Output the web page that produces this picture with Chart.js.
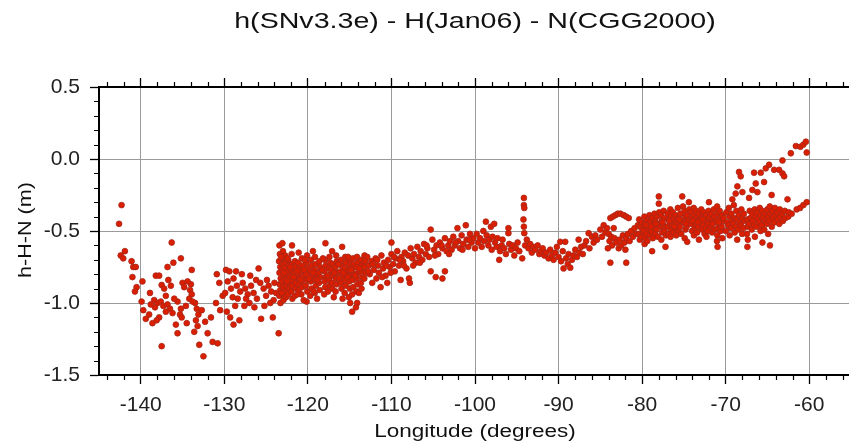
<!DOCTYPE html>
<html>
<head>
<meta charset="utf-8">
<script src="https://cdn.jsdelivr.net/npm/chart.js@4.4.1/dist/chart.umd.min.js"></script>
<style>
html, body { margin: 0; padding: 0; background: #fff; overflow: hidden; }
</style>
</head>
<body>
<canvas id="chart" width="870" height="447"></canvas>
<script>
// text
var titleText = 'h(SNv3.3e) - H(Jan06) - N(CGG2000)';
var xLabel = 'Longitude (degrees)';
var yLabel = 'h-H-N (m)';

// axis ranges / ticks
var xRange = [-145, -55];
var yRange = [-1.5, 0.5];
var xTickValues = [-140, -130, -120, -110, -100, -90, -80, -70, -60];
var yTickValues = [-1.5, -1.0, -0.5, 0.0, 0.5];

// [longitude, h-H-N], west to east
var westPts = [
  [-142.6,-0.45],[-142.3,-0.32],[-142.4,-0.67],[-141.9,-0.64],[-142.1,-0.69],[-141.1,-0.71],[-140.9,-0.75],
  [-140.6,-0.75],[-141.0,-0.82],[-140.5,-0.89],[-140.7,-0.92],[-139.8,-0.85],[-136.3,-0.58],[-136.1,-0.72],
  [-135.2,-0.69],[-136.8,-0.75],[-138.2,-0.81],[-137.8,-0.81],[-136.7,-0.84],[-137.5,-0.875],[-133.9,-0.77],
  [-135.0,-0.86],[-134.8,-0.89],[-134.0,-0.87],[-134.1,-0.91],[-133.9,-0.94],[-134.2,-0.97],[-138.4,-0.98],
  [-138.0,-1.0],[-137.6,-0.99],[-138.3,-1.03],[-137.3,-1.02],[-138.8,-1.01],[-139.7,-1.05],[-139.4,-1.11],
  [-138.6,-1.14],[-137.8,-1.10],[-136.8,-1.01],[-136.5,-1.04],[-136.2,-1.07],[-137.0,-1.06],[-135.2,-1.04],
  [-135.3,-1.08],[-135.1,-1.10],[-135.6,-0.99],[-133.5,-1.0],[-133.3,-1.04],[-133.1,-1.08],[-133.4,-1.12],
  [-133.2,-1.16],[-133.6,-1.2],[-135.6,-1.21],[-137.5,-1.30],[-133.0,-1.29],[-132.5,-1.37],[-132.0,-1.21],
  [-131.4,-1.27],[-130.8,-1.28],[-131.6,-1.10],[-139.0,-1.08],[-138.9,-0.93],[-137.0,-0.95],[-136.0,-0.97],
  [-134.6,-1.02],[-134.5,-1.14],[-135.8,-1.15],[-138.1,-1.12],[-139.9,-0.99],[-132.7,-1.05],[-132.3,-1.13],
  [-133.8,-0.99],[-134.4,-0.85],[-136.4,-0.88],[-137.2,-0.90]
];

var coastPts = [
  [-131.0,-1.0],[-130.5,-1.05],[-130.2,-0.95],[-129.8,-0.77],[-129.4,-0.78],[-128.6,-0.78],[-129.6,-0.85],
  [-129.2,-0.9],[-128.9,-0.83],[-128.5,-0.88],[-128.1,-0.92],[-129.9,-0.93],[-129.0,-0.96],[-128.4,-0.97],
  [-127.8,-0.86],[-127.5,-0.9],[-127.2,-0.94],[-126.8,-0.88],[-126.5,-0.93],[-126.1,-0.97],[-125.9,-0.76],
  [-125.7,-0.86],[-125.3,-0.9],[-125.0,-0.95],[-124.7,-0.88],[-124.4,-0.92],[-124.1,-0.98],[-123.8,-0.93],
  [-129.7,-1.06],[-129.3,-1.1],[-128.9,-1.15],[-128.2,-1.12],[-127.6,-1.02],[-127.0,-1.0],[-126.4,-1.03],
  [-125.6,-1.11],[-124.2,-1.10],[-123.5,-1.21],[-130.6,-0.86],[-130.9,-0.8],[-127.9,-0.8],[-126.2,-0.84],
  [-124.9,-0.84],[-124.5,-1.0],[-125.2,-1.02],[-127.4,-0.97],[-128.7,-1.02],[-126.9,-0.81],[-124.0,-0.86]
];

var mountainPts = [
  [-123.4,-0.6],[-123.35,-0.66],[-123.45,-0.71],[-123.3,-0.75],[-123.4,-0.79],[-123.25,-0.83],[-123.38,-0.87],
  [-123.3,-0.91],[-123.42,-0.95],[-123.28,-1.0],[-123.05,-0.585],[-122.98,-0.64],[-123.1,-0.69],[-122.95,-0.73],
  [-123.02,-0.77],[-122.9,-0.81],[-123.08,-0.85],[-122.96,-0.89],[-123.0,-0.94],[-122.92,-0.98],[-122.72,-0.67],
  [-122.65,-0.72],[-122.78,-0.76],[-122.6,-0.8],[-122.7,-0.84],[-122.58,-0.88],[-122.75,-0.92],[-122.62,-0.96],
  [-122.35,-0.7],[-122.28,-0.74],[-122.4,-0.78],[-122.22,-0.82],[-122.33,-0.86],[-122.25,-0.9],[-122.38,-0.94],
  [-121.95,-0.66],[-121.88,-0.73],[-122.02,-0.77],[-121.85,-0.8],[-121.97,-0.84],[-121.9,-0.88],[-122.0,-0.92],
  [-121.86,-0.97],[-121.55,-0.71],[-121.48,-0.75],[-121.6,-0.79],[-121.45,-0.83],[-121.52,-0.86],[-121.42,-0.9],
  [-121.58,-0.95],[-121.1,-0.65],[-121.15,-0.72],[-121.05,-0.76],[-121.18,-0.8],[-121.02,-0.83],[-121.12,-0.87],
  [-121.08,-0.91],[-120.72,-0.69],[-120.65,-0.74],[-120.8,-0.78],[-120.6,-0.82],[-120.75,-0.85],[-120.68,-0.89],
  [-120.78,-0.94],[-120.1,-0.67],[-120.18,-0.72],[-120.05,-0.76],[-120.22,-0.8],[-120.12,-0.84],[-120.25,-0.88],
  [-120.08,-0.92],[-120.15,-0.99],[-119.62,-0.7],[-119.55,-0.74],[-119.7,-0.78],[-119.5,-0.81],[-119.66,-0.85],
  [-119.58,-0.9],[-119.72,-0.95],[-119.15,-0.68],[-119.08,-0.73],[-119.2,-0.77],[-119.02,-0.8],[-119.12,-0.84],
  [-119.05,-0.88],[-119.18,-0.93],[-118.62,-0.71],[-118.55,-0.75],[-118.7,-0.79],[-118.5,-0.82],[-118.66,-0.86],
  [-118.58,-0.91],[-117.9,-0.585],[-117.95,-0.7],[-117.88,-0.74],[-118.02,-0.78],[-117.85,-0.82],[-117.98,-0.85],
  [-117.92,-0.89],[-118.05,-0.94],[-117.42,-0.68],[-117.35,-0.72],[-117.48,-0.76],[-117.3,-0.8],[-117.45,-0.84],
  [-117.38,-0.88],[-117.1,-0.64],[-117.05,-0.73],[-117.15,-0.77],[-117.02,-0.81],[-117.12,-0.86],[-117.08,-0.9],
  [-116.62,-0.67],[-116.55,-0.71],[-116.7,-0.75],[-116.5,-0.79],[-116.65,-0.83],[-116.58,-0.87],[-116.68,-0.92],
  [-115.9,-0.61],[-116.02,-0.7],[-115.95,-0.74],[-116.08,-0.78],[-115.92,-0.82],[-116.05,-0.86],[-115.98,-0.9],
  [-115.52,-0.68],[-115.45,-0.72],[-115.58,-0.76],[-115.42,-0.8],[-115.55,-0.84],[-115.48,-0.88],[-115.6,-0.93],
  [-115.02,-0.7],[-114.95,-0.74],[-115.08,-0.77],[-114.92,-0.81],[-115.05,-0.85],[-114.98,-0.9],[-115.1,-0.96],
  [-114.94,-1.0],[-114.62,-0.69],[-114.55,-0.73],[-114.68,-0.76],[-114.5,-0.8],[-114.65,-0.84],[-114.58,-0.89],
  [-114.7,-0.94],[-114.7,-1.06],[-114.12,-0.68],[-114.05,-0.72],[-114.18,-0.75],[-114.02,-0.79],[-114.15,-0.83],
  [-114.08,-0.87],[-114.2,-0.92],[-114.1,-1.0],[-114.25,-1.03],[-113.62,-0.7],[-113.55,-0.74],[-113.68,-0.78],
  [-113.5,-0.82],[-113.65,-0.86],[-113.58,-0.9],[-113.22,-0.67],[-113.15,-0.71],[-113.28,-0.75],[-113.1,-0.79],
  [-113.25,-0.83],
  [-123.2,-0.68],[-122.85,-0.79],[-122.5,-0.85],[-122.1,-0.75],[-121.7,-0.82],[-121.3,-0.78],[-120.9,-0.84],
  [-120.45,-0.77],[-119.85,-0.83],[-119.35,-0.79],[-118.85,-0.84],[-118.3,-0.77],[-117.65,-0.81],[-116.85,-0.79],
  [-116.3,-0.83],[-115.75,-0.79],[-115.25,-0.82],[-114.8,-0.77],[-114.35,-0.81],[-113.85,-0.76],[-123.15,-0.93],
  [-122.45,-0.69],[-121.25,-0.94],[-120.35,-0.7],[-119.3,-0.92],[-118.2,-0.69],[-117.6,-0.92],[-116.35,-0.73],
  [-115.2,-0.68],[-113.9,-0.93],[-118.9,-0.97],[-120.5,-0.98],[-116.9,-0.96],[-121.9,-0.6],[-119.4,-0.64],
  [-115.85,-0.97]
];

var prairiePts = [
  [-112.9,-0.68],[-112.7,-0.74],[-112.6,-0.8],[-112.4,-0.71],[-112.3,-0.86],[-112.1,-0.77],[-111.9,-0.69],
  [-111.8,-0.83],[-111.6,-0.74],[-111.5,-0.79],[-111.3,-0.89],[-111.2,-0.67],[-111.0,-0.76],[-110.9,-0.72],
  [-110.7,-0.81],[-110.5,-0.86],[-110.4,-0.7],[-110.2,-0.75],[-110.0,-0.58],[-110.0,-0.66],[-109.8,-0.73],
  [-109.6,-0.78],[-109.5,-0.69],[-109.3,-0.64],[-109.1,-0.74],[-108.9,-0.84],[-108.8,-0.68],[-108.6,-0.71],
  [-108.4,-0.65],[-108.2,-0.76],[-107.9,-0.83],[-107.8,-0.86],[-107.7,-0.62],[-107.5,-0.69],[-107.3,-0.66],
  [-107.1,-0.72],[-106.9,-0.61],[-106.7,-0.68],[-106.5,-0.64],[-106.3,-0.7],[-106.1,-0.59],[-105.9,-0.66],
  [-105.7,-0.62],[-105.5,-0.68],[-105.3,-0.49],[-105.3,-0.78],[-105.1,-0.56],[-104.9,-0.63],[-104.7,-0.82],
  [-104.6,-0.6],[-104.4,-0.66],[-104.2,-0.58],[-103.9,-0.83],[-103.9,-0.62],[-103.6,-0.78],[-103.6,-0.55],
  [-103.4,-0.64],[-103.2,-0.6],[-103.0,-0.57],[-102.8,-0.63],[-102.6,-0.54],[-102.4,-0.6],[-102.1,-0.48],
  [-102.0,-0.57],[-101.8,-0.62],[-101.6,-0.53],[-101.4,-0.59],[-101.1,-0.46],[-101.0,-0.56],[-100.8,-0.61],
  [-100.6,-0.52],[-100.4,-0.58],[-100.2,-0.55],[-100.0,-0.62],
  [-112.8,-0.78],[-112.2,-0.73],[-111.7,-0.7],[-111.1,-0.82],[-110.6,-0.74],[-110.1,-0.79],[-109.7,-0.68],
  [-109.0,-0.7],[-108.5,-0.74],[-108.0,-0.67],[-107.4,-0.74],[-106.6,-0.72],[-105.8,-0.6],[-104.8,-0.67],
  [-104.0,-0.6],[-103.1,-0.66],[-102.3,-0.58],[-101.5,-0.63],[-100.7,-0.56]
];

var plainsPts = [
  [-99.8,-0.52],[-99.6,-0.58],[-99.4,-0.55],[-99.2,-0.61],[-99.0,-0.5],[-98.9,-0.57],[-98.7,-0.435],
  [-98.6,-0.53],[-98.4,-0.6],[-98.3,-0.56],[-98.1,-0.47],[-98.0,-0.63],[-97.9,-0.54],[-97.7,-0.45],
  [-97.6,-0.58],[-97.4,-0.61],[-97.3,-0.55],[-97.1,-0.7],[-97.0,-0.64],[-96.8,-0.6],[-96.7,-0.56],
  [-96.5,-0.62],[-96.3,-0.66],[-96.0,-0.48],[-96.0,-0.515],[-95.9,-0.59],[-95.7,-0.63],[-95.5,-0.6],
  [-95.3,-0.67],[-95.1,-0.62],[-94.9,-0.58],[-94.7,-0.64],[-94.35,-0.69],[-94.15,-0.27],[-94.15,-0.32],
  [-94.1,-0.34],[-94.2,-0.42],[-94.15,-0.47],[-94.1,-0.515],[-94.0,-0.6],[-93.8,-0.56],[-93.6,-0.62],
  [-93.4,-0.59],[-93.2,-0.65],[-93.0,-0.61],[-92.8,-0.63],[-92.5,-0.6],[-92.3,-0.66],[-92.1,-0.64],
  [-91.9,-0.62],[-91.7,-0.67],[-91.5,-0.65],[-91.2,-0.69],[-91.0,-0.63],[-90.8,-0.67],[-90.6,-0.7],
  [-90.4,-0.65],[-90.2,-0.61],[-90.0,-0.68],[-89.8,-0.575],[-89.7,-0.71],[-89.5,-0.64],[-89.4,-0.76],
  [-89.2,-0.575],[-89.1,-0.69],[-88.9,-0.73],[-88.8,-0.66],[-88.6,-0.755],[-88.4,-0.7],[-88.2,-0.67],
  [-88.0,-0.63],[-87.8,-0.68],[-87.6,-0.56],[-87.5,-0.65],[-87.3,-0.61],[-87.1,-0.66],[-86.9,-0.6],
  [-86.7,-0.57],[-86.4,-0.515],[-86.3,-0.62],[-86.0,-0.54],[-85.8,-0.58],[-85.6,-0.53],[-85.4,-0.56],
  [-85.0,-0.49],[-84.8,-0.54],[-84.6,-0.46],[-84.4,-0.51],[-84.2,-0.48]
];

var lakesPts = [
  [-83.8,-0.41],[-83.5,-0.4],[-83.2,-0.39],[-82.9,-0.38],[-82.6,-0.38],[-82.2,-0.39],[-81.9,-0.4],
  [-81.6,-0.41],[-83.4,-0.48],[-84.0,-0.52],[-83.9,-0.57],[-83.7,-0.54],[-83.6,-0.6],[-83.3,-0.55],
  [-83.1,-0.58],[-82.8,-0.62],[-82.7,-0.56],[-82.5,-0.6],[-82.3,-0.53],[-82.1,-0.58],[-81.9,-0.55],
  [-81.7,-0.52],[-81.5,-0.57],[-81.3,-0.5],[-81.1,-0.54],[-80.9,-0.48],[-83.8,-0.72],[-81.9,-0.72],
  [-84.1,-0.62],[-82.0,-0.63],[-80.7,-0.52],[-80.5,-0.46]
];

var eastPts = [
  [-80.35,-0.42],[-80.22,-0.47],[-80.4,-0.52],[-80.28,-0.56],[-80.02,-0.44],[-79.95,-0.49],[-80.08,-0.54],
  [-79.9,-0.51],[-79.72,-0.4],[-79.65,-0.45],[-79.78,-0.5],[-79.6,-0.55],[-79.7,-0.59],[-79.42,-0.43],
  [-79.35,-0.47],[-79.48,-0.52],[-79.38,-0.57],[-79.12,-0.39],[-79.05,-0.44],[-79.18,-0.49],[-79.02,-0.53],
  [-78.82,-0.41],[-78.75,-0.46],[-78.88,-0.5],[-78.72,-0.55],[-78.8,-0.64],[-78.52,-0.38],[-78.45,-0.43],
  [-78.58,-0.48],[-78.42,-0.52],[-78.22,-0.4],[-78.15,-0.45],[-78.28,-0.49],[-78.12,-0.54],[-78.0,-0.26],
  [-78.0,-0.31],[-77.95,-0.37],[-77.72,-0.39],[-77.65,-0.43],[-77.78,-0.47],[-77.6,-0.51],[-77.7,-0.56],
  [-77.42,-0.36],[-77.35,-0.41],[-77.48,-0.46],[-77.32,-0.5],[-77.2,-0.61],[-77.15,-0.53],[-76.92,-0.38],
  [-76.85,-0.42],[-76.98,-0.47],[-76.82,-0.52],[-76.62,-0.35],[-76.55,-0.4],[-76.68,-0.45],[-76.52,-0.49],
  [-76.6,-0.54],[-76.32,-0.37],[-76.25,-0.42],[-76.38,-0.46],[-76.22,-0.51],[-76.02,-0.39],[-75.95,-0.44],
  [-76.08,-0.48],[-75.92,-0.53],[-75.72,-0.34],[-75.65,-0.41],[-75.78,-0.45],[-75.62,-0.5],[-75.42,-0.38],
  [-75.35,-0.43],[-75.48,-0.47],[-75.32,-0.52],[-75.2,-0.26],[-75.1,-0.33],[-74.92,-0.36],[-74.85,-0.4],
  [-74.98,-0.44],[-74.82,-0.49],[-74.9,-0.55],[-74.62,-0.39],[-74.55,-0.43],[-74.68,-0.47],[-74.6,-0.575],
  [-74.4,-0.3],[-74.35,-0.35],[-74.12,-0.37],[-74.05,-0.41],[-74.18,-0.45],[-74.02,-0.5],[-73.82,-0.34],
  [-73.75,-0.39],[-73.88,-0.43],[-73.72,-0.48],[-73.8,-0.53],[-73.52,-0.36],[-73.45,-0.41],[-73.58,-0.46],
  [-73.42,-0.51],[-73.22,-0.38],[-73.15,-0.42],[-73.28,-0.47],[-73.2,-0.56],[-72.92,-0.35],[-72.85,-0.4],
  [-72.98,-0.44],[-72.82,-0.49],[-72.62,-0.37],[-72.55,-0.41],[-72.68,-0.46],[-72.52,-0.52],[-72.32,-0.39],
  [-72.25,-0.43],[-72.38,-0.48],[-72.3,-0.54],[-72.0,-0.3],[-72.05,-0.36],[-71.95,-0.41],[-72.08,-0.45],
  [-71.72,-0.38],[-71.65,-0.42],[-71.78,-0.47],[-71.62,-0.51],[-71.42,-0.35],[-71.35,-0.4],[-71.48,-0.44],
  [-71.32,-0.49],[-71.02,-0.33],[-70.98,-0.38],[-71.05,-0.43],[-70.95,-0.48],[-71.0,-0.53],[-71.04,-0.57],
  [-70.97,-0.61],[-70.72,-0.36],[-70.65,-0.41],[-70.78,-0.45],[-70.62,-0.5],[-70.42,-0.39],[-70.35,-0.43],
  [-70.48,-0.47],[-70.4,-0.55],
  [-79.55,-0.46],[-78.95,-0.47],[-78.35,-0.45],[-77.55,-0.44],[-76.75,-0.43],[-76.15,-0.47],[-75.55,-0.42],
  [-74.75,-0.45],[-73.95,-0.43],[-73.35,-0.44],[-72.75,-0.42],[-72.15,-0.5],[-71.55,-0.45],[-70.85,-0.44],
  [-70.25,-0.41]
];

var maritimePts = [
  [-69.92,-0.37],[-69.85,-0.44],[-69.98,-0.5],[-69.62,-0.34],[-69.55,-0.4],[-69.68,-0.46],[-69.52,-0.53],
  [-69.32,-0.38],[-69.25,-0.43],[-69.38,-0.48],[-69.02,-0.32],[-68.95,-0.41],[-69.08,-0.45],[-68.92,-0.51],
  [-68.72,-0.36],[-68.65,-0.42],[-68.78,-0.47],[-68.62,-0.56],[-68.42,-0.39],[-68.35,-0.44],[-68.48,-0.49],
  [-68.12,-0.35],[-68.05,-0.41],[-68.18,-0.46],[-68.02,-0.52],[-67.82,-0.38],[-67.75,-0.43],[-67.88,-0.48],
  [-67.42,-0.42],[-67.38,-0.47],[-67.45,-0.52],[-67.35,-0.56],[-67.4,-0.61],[-67.12,-0.36],[-67.05,-0.41],
  [-67.18,-0.45],[-66.82,-0.38],[-66.75,-0.43],[-66.88,-0.49],[-66.52,-0.35],[-66.45,-0.4],[-66.58,-0.46],
  [-66.5,-0.54],[-66.22,-0.37],[-66.15,-0.42],[-66.28,-0.47],[-65.92,-0.34],[-65.85,-0.39],[-65.98,-0.44],
  [-65.82,-0.5],[-65.62,-0.36],[-65.55,-0.41],[-65.68,-0.46],[-65.6,-0.58],[-65.32,-0.38],[-65.25,-0.43],
  [-65.38,-0.49],[-65.02,-0.35],[-64.95,-0.4],[-65.08,-0.45],[-64.92,-0.52],[-64.72,-0.33],[-64.65,-0.38],
  [-64.78,-0.43],[-64.7,-0.6],[-64.42,-0.36],[-64.35,-0.41],[-64.48,-0.47],[-64.12,-0.34],[-64.05,-0.39],
  [-64.18,-0.44],[-63.82,-0.37],[-63.75,-0.42],[-63.52,-0.35],[-63.45,-0.4],[-63.58,-0.45],[-63.22,-0.38],
  [-63.15,-0.43],[-62.92,-0.36],[-62.85,-0.41],[-62.5,-0.4],[-62.45,-0.37],[-62.1,-0.38],[-61.5,-0.35],
  [-61.1,-0.34],[-60.7,-0.32],[-60.3,-0.3]
];

var upperPts = [
  [-68.6,-0.19],[-68.0,-0.23],[-68.8,-0.24],[-68.4,-0.09],[-68.2,-0.12],[-66.6,-0.095],[-65.8,-0.095],
  [-65.2,-0.065],[-64.8,-0.04],[-64.2,-0.075],[-63.6,-0.075],[-63.2,-0.10],[-63.0,-0.12],[-63.2,-0.01],
  [-62.2,0.04],[-61.6,0.09],[-61.05,0.085],[-60.7,0.10],[-60.4,0.12],[-60.3,0.045],[-66.4,-0.17],
  [-65.4,-0.16],[-66.8,-0.215],[-66.2,-0.23],[-69.2,-0.28],[-67.2,-0.27],[-64.5,-0.25],[-62.6,-0.28]
];

var allPts = westPts.concat(coastPts, mountainPts, prairiePts, plainsPts, lakesPts, eastPts, maritimePts, upperPts);

var fontFamily = '"Liberation Sans", Arial, Helvetica, sans-serif';

function fixedTicks(values) {
  return function (scale) {
    scale.ticks = values.map(function (v) { return { value: v }; });
  };
}

// minor ticks on the frame (GMT style)
var minorTicks = {
  id: 'minorTicks',
  afterDraw: function (chart) {
    var ctx = chart.ctx, a = chart.chartArea, x = chart.scales.x, y = chart.scales.y;
    ctx.save();
    ctx.strokeStyle = '#000';
    ctx.lineWidth = 1.2;
    ctx.beginPath();
    for (var v = xRange[0] + 1; v < xRange[1]; v += 2) {
      if (v % 10 === 0) continue;
      var px = Math.round(x.getPixelForValue(v)) + 0.5;
      ctx.moveTo(px, a.bottom); ctx.lineTo(px, a.bottom + 5);
      ctx.moveTo(px, a.top); ctx.lineTo(px, a.top - 5);
    }
    for (var i = -14; i <= 4; i++) {
      if (i % 5 === 0) continue;
      var py = Math.round(y.getPixelForValue(i / 10)) + 0.5;
      ctx.moveTo(a.left, py); ctx.lineTo(a.left - 5, py);
    }
    ctx.stroke();
    ctx.restore();
  }
};

// title and axis labels, drawn a bit wider like the original
var wideLabels = {
  id: 'wideLabels',
  afterDraw: function (chart) {
    var ctx = chart.ctx, a = chart.chartArea;
    var cx = (a.left + a.right) / 2;
    ctx.save();
    ctx.fillStyle = '#111';
    ctx.textAlign = 'center';
    ctx.textBaseline = 'alphabetic';

    ctx.save();
    ctx.font = '22px ' + fontFamily;
    ctx.translate(cx, 28);
    ctx.scale(1.3, 1);
    ctx.fillText(titleText, 0, 0);
    ctx.restore();

    ctx.save();
    ctx.font = '18px ' + fontFamily;
    ctx.translate(cx, 437);
    ctx.scale(1.25, 1);
    ctx.fillText(xLabel, 0, 0);
    ctx.restore();

    ctx.save();
    ctx.font = '18px ' + fontFamily;
    ctx.translate(31, 230);
    ctx.rotate(-Math.PI / 2);
    ctx.scale(1.2, 1);
    ctx.fillText(yLabel, 0, 0);
    ctx.restore();

    ctx.restore();
  }
};

new Chart(document.getElementById('chart'), {
  type: 'scatter',
  data: {
    datasets: [{
      label: yLabel,
      data: allPts.map(function (p) { return { x: p[0], y: p[1] }; }),
      pointRadius: 2.9,
      pointHoverRadius: 2.9,
      backgroundColor: '#dc1e00',
      borderColor: '#a3281c',
      borderWidth: 0.8
    }]
  },
  options: {
    responsive: false,
    animation: false,
    layout: { padding: { top: 78, right: 19, left: 0, bottom: 0 } },
    plugins: { legend: { display: false }, tooltip: { enabled: false } },
    scales: {
      x: {
        type: 'linear', position: 'bottom', min: xRange[0], max: xRange[1],
        afterBuildTicks: fixedTicks(xTickValues),
        ticks: { autoSkip: false, maxRotation: 0, color: '#222', padding: 9,
                 font: { family: fontFamily, size: 21 } },
        grid: { color: '#9a9a9a', lineWidth: 1, tickLength: 9, tickColor: '#000', tickWidth: 1.3 },
        border: { color: '#000', width: 2 },
        afterFit: function (s) { s.height = 72; }
      },
      xTop: {
        type: 'linear', axis: 'x', position: 'top', min: xRange[0], max: xRange[1],
        afterBuildTicks: fixedTicks(xTickValues),
        ticks: { display: false },
        grid: { drawOnChartArea: false, tickLength: 9, tickColor: '#000', tickWidth: 1.3 },
        border: { color: '#000', width: 2 },
        afterFit: function (s) { s.height = 9; }
      },
      y: {
        min: yRange[0], max: yRange[1],
        afterBuildTicks: fixedTicks(yTickValues),
        ticks: { color: '#222', padding: 10, font: { family: fontFamily, size: 21 },
                 callback: function (v) { return v.toFixed(1); } },
        grid: { color: '#9a9a9a', lineWidth: 1, tickLength: 9, tickColor: '#000', tickWidth: 1.3 },
        border: { color: '#000', width: 2 },
        afterFit: function (s) { s.width = 99; }
      }
    }
  },
  plugins: [minorTicks, wideLabels]
});
</script>
</body>
</html>
